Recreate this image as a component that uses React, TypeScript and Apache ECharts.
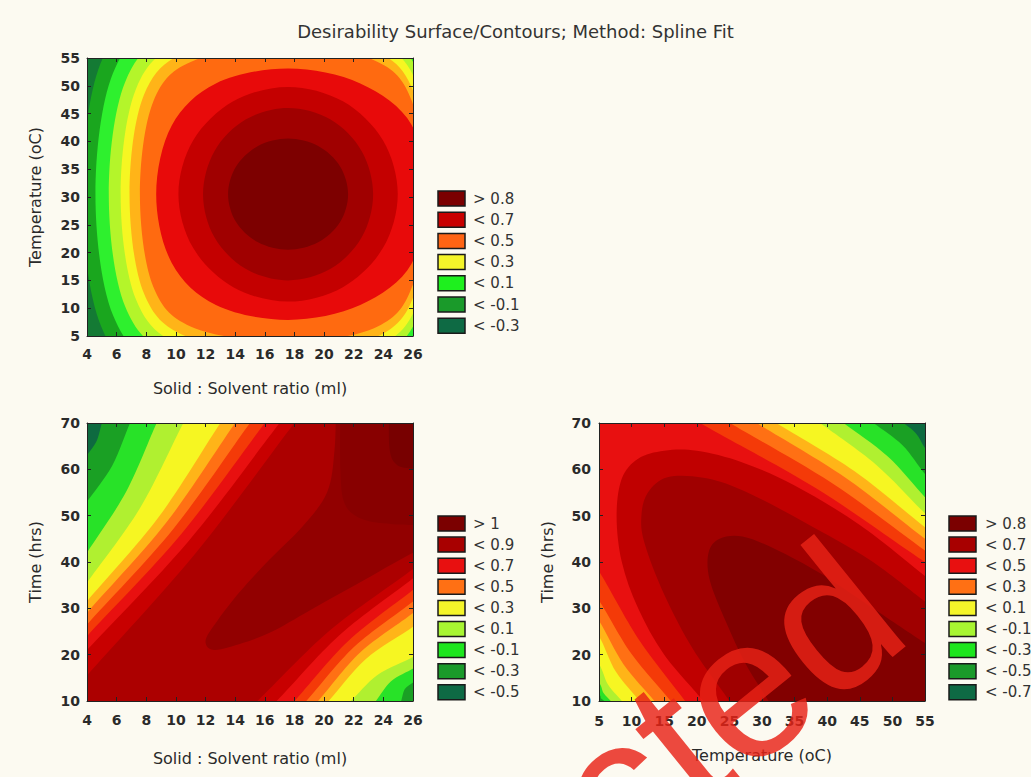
import React, { useEffect, useRef } from 'react';
import * as echarts from 'echarts';

const FONT = '"DejaVu Sans", "Liberation Sans", sans-serif';
const BG = '#fcfaf1';
const TITLE = 'Desirability Surface/Contours; Method: Spline Fit';

// ---------- axes / tick labels ----------
const topXTicks = [4, 6, 8, 10, 12, 14, 16, 18, 20, 22, 24, 26];
const topYTicks = [5, 10, 15, 20, 25, 30, 35, 40, 45, 50, 55];
const blXTicks = [4, 6, 8, 10, 12, 14, 16, 18, 20, 22, 24, 26];
const blYTicks = [10, 20, 30, 40, 50, 60, 70];
const brXTicks = [5, 10, 15, 20, 25, 30, 35, 40, 45, 50, 55];
const brYTicks = [10, 20, 30, 40, 50, 60, 70];

const topXName = 'Solid : Solvent ratio (ml)';
const topYName = 'Temperature (oC)';
const blXName = 'Solid : Solvent ratio (ml)';
const blYName = 'Time (hrs)';
const brXName = 'Temperature (oC)';
const brYName = 'Time (hrs)';

// ---------- legends ----------
const topLegendLabels = ['> 0.8', '< 0.7', '< 0.5', '< 0.3', '< 0.1', '< -0.1', '< -0.3'];
const topLegendColors = ['#7b0000', '#c80000', '#ff6414', '#f5f52a', '#1ef01e', '#1a9a2a', '#0e6a44'];
const blLegendLabels = ['> 1', '< 0.9', '< 0.7', '< 0.5', '< 0.3', '< 0.1', '< -0.1', '< -0.3', '< -0.5'];
const blLegendColors = ['#7b0000', '#a80000', '#e81010', '#ff7014', '#f5f52a', '#a8f532', '#1ee61e', '#1a9a2a', '#0e6a44'];
const brLegendLabels = ['> 0.8', '< 0.7', '< 0.5', '< 0.3', '< 0.1', '< -0.1', '< -0.3', '< -0.5', '< -0.7'];
const brLegendColors = ['#7b0000', '#a80000', '#e81010', '#ff7014', '#f5f52a', '#a8f532', '#1ee61e', '#1a9a2a', '#0e6a44'];

// ---------- top panel: closed contour lines (x = solid:solvent, y = temperature), outermost first ----------
const topBaseColor = '#147a34';
const topLevelColors = ['#1aa61e', '#2ef02e', '#b4f52a', '#f6f622', '#ffb418', '#ff6a10', '#e80a0a', '#c40000', '#a00000', '#7d0000'];
const topContourJ = [[28.17, 30.5], [27.21, 54.13], [24.25, 64.59], [17.57, 68.0], [8.81, 64.59], [4.93, 54.13], [3.67, 30.5], [4.93, 6.87], [8.81, -3.59], [17.57, -7.0], [24.25, -3.59], [27.21, 6.87]];
const topContourI = [[27.67, 30.5], [26.75, 52.24], [23.93, 61.86], [17.57, 65.0], [9.38, 61.86], [5.75, 52.24], [4.57, 30.5], [5.75, 8.76], [9.38, -0.86], [17.57, -4.0], [23.93, -0.86], [26.75, 8.76]];
const topContourH = [[27.47, 30.5], [26.57, 50.66], [23.81, 59.59], [17.57, 62.5], [9.95, 59.59], [6.57, 50.66], [5.47, 30.5], [6.57, 10.34], [9.95, 1.41], [17.57, -1.5], [23.81, 1.41], [26.57, 10.34]];
const topContourG = [[27.27, 30.5], [26.39, 49.4], [23.68, 57.77], [17.57, 60.5], [10.45, 57.77], [7.3, 49.4], [6.27, 30.5], [7.3, 11.6], [10.45, 3.23], [17.57, 0.5], [23.68, 3.23], [26.39, 11.6]];
const topContourF = [[26.97, 30.5], [26.11, 48.33], [23.49, 56.22], [17.57, 58.8], [10.83, 56.22], [7.84, 48.33], [6.87, 30.5], [7.84, 12.67], [10.83, 4.78], [17.57, 2.2], [23.49, 4.78], [26.11, 12.67]];
const topContourE = [[26.77, 30.5], [25.93, 47.2], [23.37, 54.59], [17.57, 57.0], [11.27, 54.59], [8.48, 47.2], [7.57, 30.5], [8.48, 13.8], [11.27, 6.41], [17.57, 4.0], [23.37, 6.41], [25.93, 13.8]];
const topContourD = [[26.6, 30.5], [25.9, 43.0], [22.44, 50.43], [17.57, 53.1], [12.7, 50.43], [9.72, 42.86], [8.67, 30.5], [9.72, 18.14], [12.7, 10.57], [17.57, 7.9], [22.44, 10.57], [25.9, 18.0]];
const topContourC = [[24.97, 30.5], [23.98, 40.15], [21.27, 47.21], [17.57, 49.8], [13.87, 47.21], [11.16, 40.15], [10.17, 30.5], [11.16, 20.85], [13.87, 13.79], [17.57, 11.2], [21.27, 13.79], [23.98, 20.85]];
const topContourB = [[23.31, 30.5], [22.54, 38.25], [20.44, 43.92], [17.57, 46.0], [14.7, 43.92], [12.6, 38.25], [11.83, 30.5], [12.6, 22.75], [14.7, 17.08], [17.57, 15.0], [20.44, 17.08], [22.54, 22.75]];
const topContourA = [[21.62, 30.5], [21.08, 35.5], [19.6, 39.16], [17.57, 40.5], [15.54, 39.16], [14.06, 35.5], [13.52, 30.5], [14.06, 25.5], [15.54, 21.84], [17.57, 20.5], [19.6, 21.84], [21.08, 25.5]];

// ---------- bottom-left panel (x = solid:solvent, y = time) ----------
const blBaseColor = '#ac0000';
// dark ridge and top-right maximum (regions open towards top-right)
const blDarkColors = ['#920000', '#880000', '#780000'];
const blRidge = [[20.8, 74], [20.7, 64], [20.2, 55], [18.5, 47.5], [16.3, 40.5], [14.3, 33.5], [12.8, 27.3], [12.0, 23.0], [12.6, 21.0], [14.5, 22.5], [16.5, 25.0], [19.0, 29.5], [22.2, 35.2], [26, 42], [28.5, 45.5]];
const blBlock = [[21.1, 74], [21.1, 60], [21.4, 52.5], [22.6, 49.2], [24.5, 48.2], [26, 48.0], [28.5, 48]];
const blCorner = [[24.4, 74], [24.4, 65], [24.8, 61.3], [25.8, 60.2], [28.5, 60]];
// falling values towards the top-left corner
const blUpperColors = ['#c80000', '#e81010', '#f43a08', '#ff7014', '#ffb418', '#f6f622', '#b0f030', '#28e228', '#1aa024', '#0e6a40'];
const blUpper0 = [[1.9, 7.3], [4, 15.5], [11.3, 41.8], [18, 70], [20.1, 78.2]];
const blUpper1 = [[2.05, 13.65], [4, 21], [10.85, 44.5], [17, 70], [18.95, 77.35]];
const blUpper2 = [[2.2, 17.1], [4, 24], [10.35, 46], [16, 70], [17.8, 76.9]];
const blUpper3 = [[2.35, 19.98], [4, 26.5], [9.85, 47.25], [15, 70], [16.65, 76.5]];
const blUpper4 = [[2.5, 22.85], [4, 29], [9.35, 48.5], [14, 70], [15.5, 76.15]];
const blUpper5 = [[2.65, 25.7], [4, 31.5], [8.85, 49.75], [13, 70], [14.35, 75.8]];
const blUpper6 = [[3.0, 30.3], [4, 35.5], [7.6, 51.75], [10.5, 70], [11.5, 75.2]];
const blUpper7 = [[3.3, 37.8], [4, 42], [6.65, 55.2], [8.7, 70], [9.4, 74.2]];
const blUpper8 = [[3.55, 50.45], [4, 53], [5.7, 60.8], [6.9, 70], [7.35, 72.55]];
const blUpper9 = [[3.85, 61.95], [4, 63], [4.65, 66.1], [5.0, 70], [5.15, 71.05]];
// falling values towards the bottom-right corner
const blLowerColors = ['#c80000', '#e81010', '#f43a08', '#ff7014', '#ffb418', '#f6f622', '#b0f030', '#28e228', '#1aa024'];
const blLower0 = [[13.4, 4.3], [15.5, 10], [20.4, 25.25], [26, 38.5], [28.1, 44.2]];
const blLower1 = [[14.96, 4.7], [16.8, 10], [21.05, 24.25], [26, 36.5], [27.84, 41.8]];
const blLower2 = [[16.4, 5.2], [18.0, 10], [21.65, 23], [26, 34], [27.6, 38.8]];
const blLower3 = [[17.36, 5.7], [18.8, 10], [22.05, 21.75], [26, 31.5], [27.44, 35.8]];
const blLower4 = [[18.32, 6.2], [19.6, 10], [22.45, 20.5], [26, 29], [27.28, 32.8]];
const blLower5 = [[19.16, 6.8], [20.3, 10], [22.8, 19], [26, 26], [27.14, 29.2]];
const blLower6 = [[20.96, 8.1], [21.8, 10], [23.6, 15.6], [26, 19.5], [26.84, 21.4]];
const blLower7 = [[23.0, 8.6], [23.5, 10], [24.5, 14.2], [26, 17], [26.5, 18.4]];
const blLower8 = [[25.04, 9.2], [25.2, 10], [25.45, 12.6], [26, 14], [26.16, 14.8]];

// ---------- bottom-right panel (x = temperature, y = time), regions open towards bottom-right ----------
const brBaseColor = '#0e6a40';
const brLevelColors = ['#1aa024', '#28e228', '#b0f030', '#f6f622', '#ffb418', '#ff7014', '#f43a08', '#e81010', '#c00000', '#a00000', '#820000'];
const brLevel1 = [[3, 6], [2, 40], [2, 74], [47.7, 74], [51.7, 70], [53.65, 67.7], [55, 64.6], [56.65, 61.9]];
const brLevel2 = [[6.3, 9.0], [5.8, 10], [5.3, 10.6], [5, 11.5], [2.5, 15.5], [2.5, 74], [43.1, 74], [47.1, 70], [51.55, 65.2], [55, 59], [57.4, 55.7]];
const brLevel3 = [[7.3, 9.0], [6.8, 10], [5.7, 11.7], [5, 14], [2.5, 18], [2.5, 74], [38.5, 74], [42.5, 70], [49.3, 62.75], [55, 54], [58.75, 49.2]];
const brLevel4 = [[9.4, 8.0], [8.5, 10], [6.4, 13.5], [5, 18], [2.5, 22], [2.5, 74], [34.9, 74], [38.9, 70], [47.5, 61.0], [55, 50.5], [59.0, 45.6]];
const brLevel5 = [[12.7, 6.5], [11.2, 10], [7.6, 16.3], [5, 24], [2.5, 28], [2.5, 74], [28.2, 74], [32.2, 70], [44.2, 59.6], [55, 47.5], [59.6, 43.0]];
const brLevel6 = [[15.6, 5.7], [13.5, 10], [8.75, 17.95], [5, 27.3], [2.5, 31.3], [2.5, 74], [25.2, 74], [29.2, 70], [42.7, 58.3], [55, 45], [60.2, 40]];
const brLevel7 = [[18.75, 4.6], [16, 10], [10, 20.15], [5, 31.7], [2.5, 35.7], [2.5, 74], [21.1, 74], [25.1, 70], [40.65, 57.1], [55, 42.5], [61, 37]];
const brLevel8 = [[21.5, 3], [18.2, 10], [11.1, 23.3], [5, 38], [2.5, 42], [2.5, 74], [16.5, 74], [20.5, 70], [38.35, 55.85], [55, 40], [61.9, 34]];
const brLevel9 = [[22, 7], [21, 10], [15, 20], [11, 30], [8.5, 40], [7.7, 50], [8.5, 58], [11, 62.3], [15, 64], [20, 64], [27, 61.5], [35, 56.5], [45, 48], [55, 37], [58, 33.5]];
const brLevel10 = [[25.8, 7], [25, 10], [19.5, 21], [15, 33], [12, 44], [11.5, 50], [12.5, 55], [15.5, 58.3], [21, 58.2], [27, 55.5], [36.5, 48.6], [46.5, 40.5], [55, 31.5], [58, 28.5]];
const brLevel11 = [[31.8, 7], [31, 10], [27.5, 18], [24.5, 27], [22, 36], [21.8, 42], [23.5, 45], [27, 45.5], [32, 42.8], [39, 37.5], [47, 30], [55, 22.5], [58, 20]];

// watermark over the picture
const WATERMARK = 'Retracted';

type Band = { pts: number[][]; color: string; mode: 'closed' | 'tl' | 'tr' | 'br' };

const topBands: Band[] = [topContourJ, topContourI, topContourH, topContourG, topContourF, topContourE, topContourD, topContourC, topContourB, topContourA]
  .map((pts, i) => ({ pts, color: topLevelColors[i], mode: 'closed' as const }));

const blBands: Band[] = [
  ...[blRidge, blBlock, blCorner].map((pts, i) => ({ pts, color: blDarkColors[i], mode: 'tr' as const })),
  ...[blUpper0, blUpper1, blUpper2, blUpper3, blUpper4, blUpper5, blUpper6, blUpper7, blUpper8, blUpper9].map((pts, i) => ({ pts, color: blUpperColors[i], mode: 'tl' as const })),
  ...[blLower0, blLower1, blLower2, blLower3, blLower4, blLower5, blLower6, blLower7, blLower8].map((pts, i) => ({ pts, color: blLowerColors[i], mode: 'br' as const })),
];

const brBands: Band[] = [brLevel1, brLevel2, brLevel3, brLevel4, brLevel5, brLevel6, brLevel7, brLevel8, brLevel9, brLevel10, brLevel11]
  .map((pts, i) => ({ pts, color: brLevelColors[i], mode: 'br' as const }));

// Catmull-Rom spline through pixel points -> SVG path
function splinePath(p: number[][], closed: boolean): string {
  const n = p.length;
  const get = (k: number) => (closed ? p[(k + n) % n] : p[Math.max(0, Math.min(n - 1, k))]);
  let d = `M${p[0][0].toFixed(2)},${p[0][1].toFixed(2)}`;
  const segs = closed ? n : n - 1;
  for (let k = 0; k < segs; k++) {
    const p0 = get(k - 1), p1 = get(k), p2 = get(k + 1), p3 = get(k + 2);
    const c1 = [p1[0] + (p2[0] - p0[0]) / 6, p1[1] + (p2[1] - p0[1]) / 6];
    const c2 = [p2[0] - (p3[0] - p1[0]) / 6, p2[1] - (p3[1] - p1[1]) / 6];
    d += ` C${c1[0].toFixed(2)},${c1[1].toFixed(2)} ${c2[0].toFixed(2)},${c2[1].toFixed(2)} ${p2[0].toFixed(2)},${p2[1].toFixed(2)}`;
  }
  if (closed) d += ' Z';
  return d;
}

function makeSeries(bands: Band[], axisIdx: number, x0: number, y0: number) {
  return {
    type: 'custom',
    xAxisIndex: axisIdx,
    yAxisIndex: axisIdx,
    clip: true,
    silent: true,
    z: 2,
    data: bands.map(() => [x0, y0]),
    renderItem: (params: any, api: any) => {
      const b = bands[params.dataIndex];
      const cs = params.coordSys;
      const px = b.pts.map((q) => api.coord(q));
      let d = splinePath(px, b.mode === 'closed');
      if (b.mode !== 'closed') {
        const M = 300;
        const cx = b.mode === 'tl' ? cs.x - M : cs.x + cs.width + M;
        const cy = b.mode === 'br' ? cs.y + cs.height + M : cs.y - M;
        d += ` L${cx},${cy} Z`;
      }
      return { type: 'path', shape: { pathData: d }, style: { fill: b.color } };
    },
  };
}

const labelStyle = { color: '#2a2a2a', fontSize: 14, fontWeight: 'bold', fontFamily: FONT };
const nameStyle = { color: '#2a2a2a', fontSize: 16, fontFamily: FONT };

function axesFor(grid: number, xt: number[], yt: number[], xName: string, yName: string, xMargin: number, yMargin: number, xGap: number, yGap: number) {
  const common = {
    type: 'value',
    gridIndex: grid,
    z: 10,
    splitLine: { show: false },
    axisLine: { show: true, onZero: false, lineStyle: { color: '#222', width: 1 } },
    axisTick: { show: true, inside: true, length: 4, lineStyle: { color: '#222' } },
  };
  const xr = { min: xt[0], max: xt[xt.length - 1], interval: xt[1] - xt[0] };
  const yr = { min: yt[0], max: yt[yt.length - 1], interval: yt[1] - yt[0] };
  const x = [
    { ...common, ...xr, position: 'bottom', axisLabel: { ...labelStyle, margin: xMargin }, name: xName, nameLocation: 'middle', nameGap: xGap, nameTextStyle: nameStyle },
    { ...common, ...xr, position: 'top', axisLabel: { show: false } },
  ];
  const y = [
    { ...common, ...yr, position: 'left', axisLabel: { ...labelStyle, margin: yMargin }, name: yName, nameLocation: 'middle', nameGap: yGap, nameTextStyle: nameStyle },
    { ...common, ...yr, position: 'right', axisLabel: { show: false } },
  ];
  return { x, y };
}

function legendElements(boxX: number, textX: number, y0: number, step: number, labels: string[], colors: string[]) {
  const els: any[] = [];
  labels.forEach((lab, i) => {
    const yc = y0 + i * step;
    els.push({ type: 'rect', shape: { x: boxX, y: yc - 7.5, width: 27, height: 15 }, style: { fill: colors[i], stroke: '#1a1a1a', lineWidth: 1.5 } });
    els.push({ type: 'text', x: textX, y: yc, style: { text: lab, fontSize: 15, fontFamily: FONT, fill: '#333', align: 'left', verticalAlign: 'middle' } });
  });
  return els;
}

export default function App() {
  const ref = useRef<HTMLDivElement>(null);
  useEffect(() => {
    if (!ref.current) return;
    const chart = echarts.init(ref.current, undefined, { renderer: 'svg' });
    const a0 = axesFor(0, topXTicks, topYTicks, topXName, topYName, 11, 7, 44, 44);
    const a1 = axesFor(1, blXTicks, blYTicks, blXName, blYName, 12, 7, 49, 44);
    const a2 = axesFor(2, brXTicks, brYTicks, brXName, brYName, 13, 8, 46, 44);
    const option: any = {
      animation: false,
      backgroundColor: BG,
      title: { text: TITLE, left: 'center', top: 22, padding: 0, textStyle: { fontSize: 18, fontWeight: 'normal', color: '#333', fontFamily: FONT } },
      grid: [
        { left: 87, top: 58, width: 326, height: 278, show: true, backgroundColor: topBaseColor, borderWidth: 0 },
        { left: 87, top: 423, width: 326, height: 278, show: true, backgroundColor: blBaseColor, borderWidth: 0 },
        { left: 599, top: 423, width: 326, height: 278, show: true, backgroundColor: brBaseColor, borderWidth: 0 },
      ],
      xAxis: [...a0.x, ...a1.x, ...a2.x],
      yAxis: [...a0.y, ...a1.y, ...a2.y],
      series: [
        makeSeries(topBands, 0, topXTicks[0], topYTicks[0]),
        makeSeries(blBands, 2, blXTicks[0], blYTicks[0]),
        makeSeries(brBands, 4, brXTicks[0], brYTicks[0]),
      ],
      graphic: [
        ...legendElements(438, 473, 198.5, 21.2, topLegendLabels, topLegendColors),
        ...legendElements(438, 473, 523.5, 21.1, blLegendLabels, blLegendColors),
        ...legendElements(949, 985, 523.5, 21.1, brLegendLabels, brLegendColors),
        {
          type: 'text', x: 935, y: 662, rotation: 0.68, z: 100, silent: true,
          style: { text: WATERMARK, fontSize: 200, fontFamily: '"Liberation Sans", Arial, sans-serif', fill: 'rgba(232,34,22,0.82)', align: 'right', verticalAlign: 'bottom' },
        },
      ],
    };
    chart.setOption(option);
    return () => chart.dispose();
  }, []);
  return <div ref={ref} style={{ position: 'fixed', left: 0, top: 0, width: 1031, height: 777 }} />;
}
